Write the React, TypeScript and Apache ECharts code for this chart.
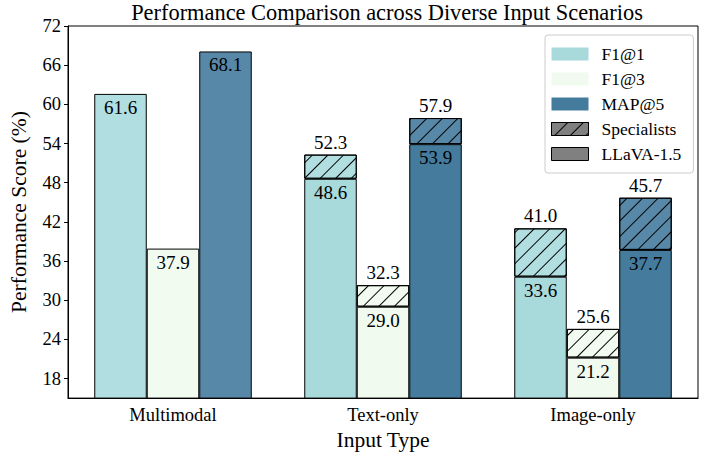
import React, { useEffect, useRef } from "react";
import * as echarts from "echarts";

const categories = ["Multimodal", "Text-only", "Image-only"];
const metrics = ["F1@1", "F1@3", "MAP@5"];
// LLaVA-1.5 values (null = not shown separately)
const llavaF11 = [null, 48.6, 33.6];
const llavaF13 = [null, 29.0, 21.2];
const llavaMap5 = [null, 53.9, 37.7];
// Specialists values
const specF11 = [61.6, 52.3, 41.0];
const specF13 = [37.9, 32.3, 25.6];
const specMap5 = [68.1, 57.9, 45.7];
const yTicks = [18, 24, 30, 36, 42, 48, 54, 60, 66, 72];

const baseColors = ["#a8dadc", "#f1faee", "#457b9d"];
const lightColors = ["#b1dee0", "#f2fbf0", "#5888a7"];
const FONT = "'Liberation Serif', 'Times New Roman', serif";

const hatch = {
  symbol: "rect",
  symbolSize: 1,
  symbolKeepAspect: false,
  color: "#000000",
  dashArrayX: [1, 0],
  dashArrayY: [1, 10],
  rotation: -Math.PI / 4,
};

export default function App() {
  const ref = useRef<HTMLDivElement>(null);
  useEffect(() => {
    const chart = echarts.init(ref.current!, undefined, { renderer: "svg" });
    const llava = [llavaF11, llavaF13, llavaMap5];
    const spec = [specF11, specF13, specMap5];
    const series: any[] = [];
    metrics.forEach((m, k) => {
      series.push({
        name: m,
        type: "bar",
        stack: m,
        barWidth: "25%",
        barGap: "0%",
        itemStyle: { color: baseColors[k], borderColor: "#000", borderWidth: 1 },
        data: categories.map((_, i) => {
          const l = llava[k][i];
          if (l == null) {
            return { value: spec[k][i], itemStyle: { color: lightColors[k] } };
          }
          return l;
        }),
        label: {
          show: true,
          position: "insideTop",
          distance: 4,
          color: "#000",
          fontFamily: FONT,
          fontSize: 19,
          formatter: (p: any) => Number(p.value).toFixed(1),
        },
      });
      series.push({
        name: m + " specialists",
        type: "bar",
        stack: m,
        barWidth: "25%",
        barGap: "0%",
        itemStyle: { color: lightColors[k], borderColor: "#000", borderWidth: 1, decal: hatch },
        data: categories.map((_, i) => {
          const l = llava[k][i];
          return l == null ? null : spec[k][i] - l;
        }),
        label: {
          show: true,
          position: "top",
          distance: 3,
          color: "#000",
          fontFamily: FONT,
          fontSize: 19,
          formatter: (p: any) => spec[k][p.dataIndex].toFixed(1),
        },
      });
    });
    series.push({
      name: "Specialists",
      type: "bar",
      xAxisIndex: 1,
      itemStyle: { color: "#808080", borderColor: "#000", borderWidth: 1, decal: hatch },
      data: [],
    });
    series.push({
      name: "LLaVA-1.5",
      type: "bar",
      xAxisIndex: 1,
      itemStyle: { color: "#808080", borderColor: "#000", borderWidth: 1 },
      data: [],
    });

    chart.setOption({
      animation: false,
      textStyle: { fontFamily: FONT },
      title: {
        text: "Performance Comparison across Diverse Input Scenarios",
        left: 382,
        top: 0,
        padding: [1, 5, 5, 5],
        textAlign: "center",
        textStyle: { fontFamily: FONT, fontSize: 22.4, fontWeight: "normal", color: "#000" },
      },
      legend: {
        orient: "vertical",
        left: 545,
        top: 35,
        width: 146,
        padding: [10, 12, 10, 6],
        backgroundColor: "#fff",
        borderColor: "#cccccc",
        borderWidth: 1,
        borderRadius: 3,
        icon: "rect",
        itemWidth: 37,
        itemHeight: 13,
        itemGap: 7,
        selectedMode: false,
        textStyle: { fontFamily: FONT, fontSize: 17.5, color: "#000", padding: [0, 0, 0, 8] },
        data: [
          { name: "F1@1", itemStyle: { borderWidth: 0 } },
          { name: "F1@3", itemStyle: { borderWidth: 0 } },
          { name: "MAP@5", itemStyle: { borderWidth: 0 } },
          { name: "Specialists", itemStyle: { borderWidth: 1 } },
          { name: "LLaVA-1.5", itemStyle: { borderWidth: 1 } },
        ],
      },
      grid: {
        left: 65,
        right: 12,
        top: 26,
        bottom: 57,
        show: true,
        borderColor: "#000",
        borderWidth: 1,
        backgroundColor: "transparent",
      },
      xAxis: [
        {
          type: "category",
          data: categories,
          name: "Input Type",
          nameLocation: "middle",
          nameGap: 30,
          nameTextStyle: { fontFamily: FONT, fontSize: 21.5, color: "#000" },
          axisLine: { lineStyle: { color: "#000" } },
          axisTick: { alignWithLabel: true, length: 4, lineStyle: { color: "#000" } },
          axisLabel: { fontFamily: FONT, fontSize: 18.5, color: "#000", margin: 7 },
        },
        { type: "category", data: categories, show: false },
      ],
      yAxis: {
        type: "value",
        min: 15,
        max: 72,
        name: "Performance Score (%)",
        nameLocation: "middle",
        nameGap: 38,
        nameTextStyle: { fontFamily: FONT, fontSize: 21.5, color: "#000" },
        splitLine: { show: false },
        axisLine: { show: true, lineStyle: { color: "#000" } },
        axisTick: { show: true, length: 4, customValues: yTicks, lineStyle: { color: "#000" } },
        axisLabel: { fontFamily: FONT, fontSize: 18.5, color: "#000", margin: 7, customValues: yTicks },
      },
      series,
    });
    return () => chart.dispose();
  }, []);
  return <div ref={ref} style={{ position: "absolute", left: 0, top: 0, width: 710, height: 456 }} />;
}
